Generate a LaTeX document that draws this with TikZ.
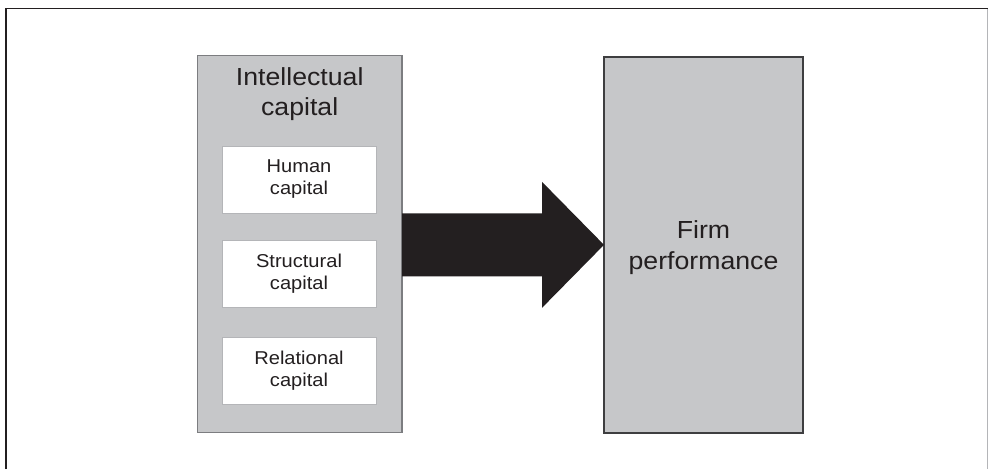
\documentclass[tikz,border=0pt]{standalone}
\usepackage{fontspec}
\setmainfont{Liberation Sans}
\newfontfamily\widesans[FakeStretch=1.08]{Liberation Sans}
\usetikzlibrary{calc}
\definecolor{panel}{HTML}{C6C7C9}
\definecolor{ink}{HTML}{231F20}
\definecolor{panelline}{HTML}{7C7D80}
\definecolor{darkline}{HTML}{3E3E40}
\definecolor{softline}{HTML}{B4B5B8}
\begin{document}
\begin{tikzpicture}[x=1pt,y=-1pt,
  bigtext/.style={font=\widesans\fontsize{24.7}{30}\selectfont, text=ink, align=center, inner sep=0pt},
  smalltext/.style={font=\widesans\fontsize{18.6}{22}\selectfont, text=ink, align=center},
  groupbox/.style={rectangle, fill=panel, draw=panelline, line width=1.2pt, inner sep=0pt, outer sep=0pt},
  outcomebox/.style={rectangle, fill=panel, draw=darkline, line width=1.6pt, inner sep=0pt, outer sep=0pt},
  partbox/.style={rectangle, fill=white, draw=softline, line width=0.9pt, minimum width=154pt, minimum height=67pt, inner sep=0pt, outer sep=0pt, smalltext}
]
\useasboundingbox (0,0) rectangle (988,469);
\fill[white] (0,0) rectangle (988,469);

% frame
\draw[ink, line width=1.4pt] (6,469) -- (6,8.3) -- (988,8.3);
\draw[softline, line width=0.9pt] (987.5,9) -- (987.5,469);

% intellectual capital group
\node[groupbox, minimum width=204.5pt, minimum height=377pt, anchor=north west] (ic) at (197.5,55.3) {};
\node[bigtext, anchor=north] (ictitle) at (299.7,67.3) {Intellectual\\capital};

\node[partbox] (human) at (299,179.5) {Human\\capital};
\node[partbox] (struct) at (299,274) {Structural\\capital};
\node[partbox] (relat) at (299,371) {Relational\\capital};

% firm performance
\node[outcomebox, minimum width=199pt, minimum height=376.3pt, anchor=north west] (perf) at (604,56.7) {};
\node[bigtext, anchor=north, font=\widesans\fontsize{24.7}{31.7}\selectfont] (perftitle) at (703.5,220) {Firm\\performance};

% block arrow
\coordinate (a0) at (ic.east |- perf.west);
\fill[ink] ($(a0)+(0,-31.5)$) -- ($(perf.west)+(-62,-31.5)$) -- ($(perf.west)+(-62,-63)$)
  -- (perf.west) -- ($(perf.west)+(-62,63)$) -- ($(perf.west)+(-62,31.5)$)
  -- ($(a0)+(0,31.5)$) -- cycle;
\end{tikzpicture}
\end{document}
